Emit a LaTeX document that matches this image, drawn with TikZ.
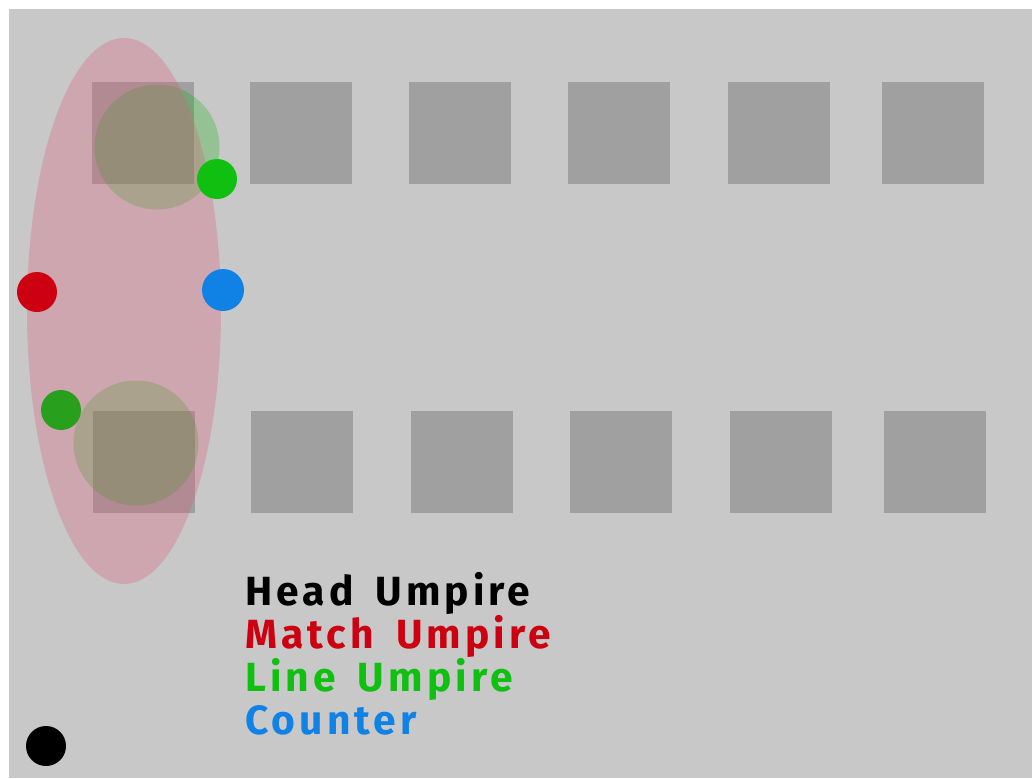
\documentclass[tikz,border=0pt]{standalone}
\usepackage{fontspec}
\newfontfamily\legendfont[LetterSpace=10,WordSpace=1.6]{Fira Sans Bold}
\definecolor{court}{RGB}{200,200,200}
\definecolor{umpred}{RGB}{204,0,16}
\definecolor{umpgreen}{RGB}{16,192,16}
\definecolor{linegreen}{RGB}{40,160,30}
\definecolor{umpblue}{RGB}{16,130,230}
\definecolor{zone}{RGB}{220,90,120}

\begin{document}
\begin{tikzpicture}[x=0.025cm, y=-0.025cm,
  box/.style={fill=black, fill opacity=0.2, minimum size=102*0.025cm, inner sep=0pt, draw=none},
  dot/.style={circle, minimum size=40*0.025cm, inner sep=0pt},
  reach/.style={circle, fill=green!70!black, fill opacity=0.25, inner sep=0pt, minimum size=125*0.025cm},
  legend/.style={anchor=base west, inner sep=0pt, font=\legendfont\fontsize{29}{29}\selectfont}]
  \useasboundingbox (0,0) rectangle (1032,778);
  \fill[court] (9,9) rectangle (1032,778);
  % courts
  \foreach \x [count=\i] in {143,301,460,619,779,933}
    \node[box] (top\i) at (\x,133) {};
  \foreach \x [count=\i] in {144,302,462,621,781,935}
    \node[box] (bot\i) at (\x,462) {};
  % reach of line umpires
  \node[reach] (reachtop) at (157,147) {};
  \node[reach] (reachbot) at (136,443) {};
  % umpire zone
  \fill[zone, opacity=0.3] (124,311) ellipse [x radius=97, y radius=273];
  % officials
  \node[dot, fill=umpgreen] (lineA) at (217,179) {};
  \node[dot, fill=linegreen] (lineB) at (61,410) {};
  \node[dot, fill=umpred] (match) at (37,292) {};
  \node[dot, fill=umpblue, minimum size=42*0.025cm] (count) at (223,290) {};
  \node[dot, fill=black] (head) at (46,746) {};
  % legend
  \node[legend, text=black] (lhead) at (245,605) {Head Umpire};
  \node[legend, text=umpred] (lmatch) at (245,648) {Match Umpire};
  \node[legend, text=umpgreen] (lline) at (245,691) {Line Umpire};
  \node[legend, text=umpblue] (lcount) at (245,734) {Counter};
\end{tikzpicture}
\end{document}
